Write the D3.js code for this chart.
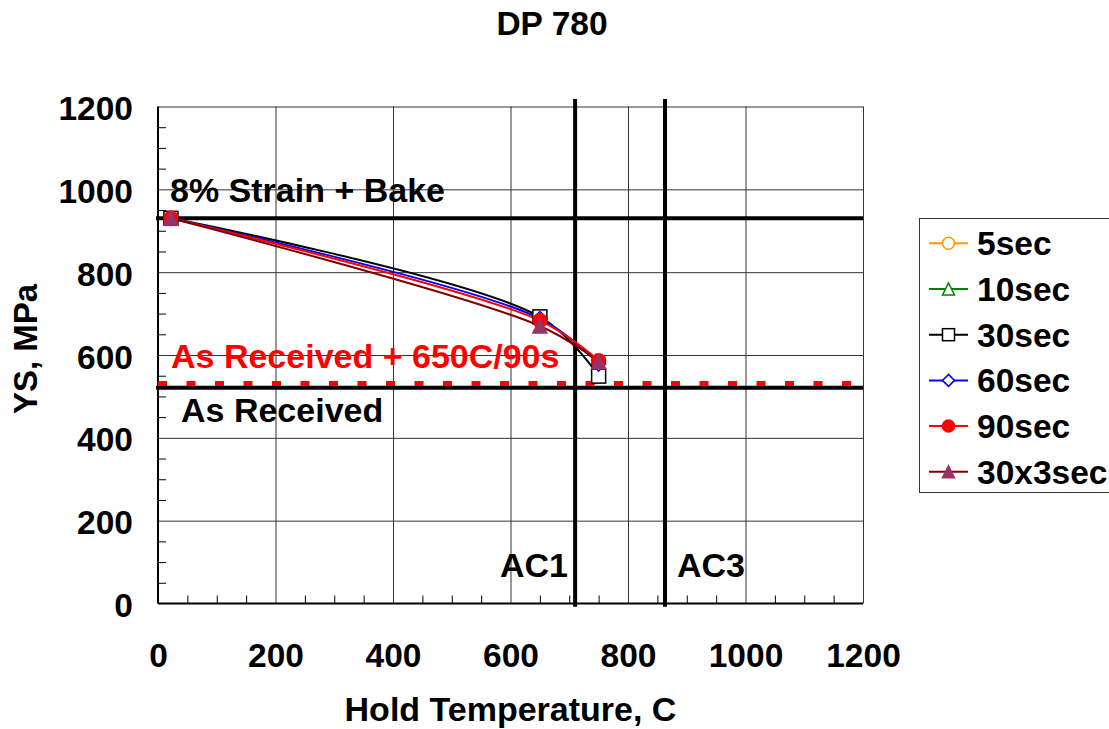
<!DOCTYPE html>
<html>
<head>
<meta charset="utf-8">
<script src="https://cdn.jsdelivr.net/npm/d3@7"></script>
<style>
  html, body { margin: 0; padding: 0; background: #fff; }
  svg { display: block; }
  text { font-family: "Liberation Sans", Arial, sans-serif; font-weight: bold; }
</style>
</head>
<body>
<svg id="chart" width="1109" height="729"></svg>
<script>
// ---------- data ----------
const chartTitle = "DP 780";
const xTicks = [0, 200, 400, 600, 800, 1000, 1200];
const yTicks = [0, 200, 400, 600, 800, 1000, 1200];
const temps = [22, 650, 750];
const seriesNames = ["5sec", "10sec", "30sec", "60sec", "90sec", "30x3sec"];
const ys5sec = [];
const ys10sec = [];
const ys30sec = [930, 692, 549];
const ys60sec = [930, 688, 578];
const ys90sec = [930, 683, 586];
const ys30x3sec = [930, 670, 584];
const strainBakeYS = 930;
const asReceivedYS = 521;
const asReceived650YS = 531;
const ac1Temp = 710;
const ac3Temp = 863;

// ---------- styles ----------
const styles = {
  "5sec":    {line: "#FF9900", fill: "#fff",    stroke: "#FF9900", shape: "circle"},
  "10sec":   {line: "#008000", fill: "#fff",    stroke: "#008000", shape: "triangle"},
  "30sec":   {line: "#000000", fill: "#fff",    stroke: "#000000", shape: "square"},
  "60sec":   {line: "#0000FF", fill: "#fff",    stroke: "#0000FF", shape: "diamond"},
  "90sec":   {line: "#FF0000", fill: "#FF0000", stroke: "#FF0000", shape: "circle"},
  "30x3sec": {line: "#800000", fill: "#993366", stroke: "#993366", shape: "triangle"}
};
const seriesValues = [ys5sec, ys10sec, ys30sec, ys60sec, ys90sec, ys30x3sec];
const series = seriesNames.map((n, i) => ({
  name: n,
  pts: seriesValues[i].map((v, j) => ({x: temps[j], y: v}))
}));

const svg = d3.select("#chart");
const x = d3.scaleLinear().domain([0, 1200]).range([158, 863]);
const y = d3.scaleLinear().domain([0, 1200]).range([603.5, 106.5]);

// gridlines
svg.append("g").attr("transform", `translate(0,${y(0)})`)
  .call(d3.axisBottom(x).tickValues(xTicks.slice(1)).tickSize(-(y(0) - y(1200))).tickFormat(""))
  .call(g => g.select(".domain").remove())
  .call(g => g.selectAll("line").attr("stroke", "#333").attr("stroke-width", 1));
svg.append("g").attr("transform", `translate(${x(0)},0)`)
  .call(d3.axisLeft(y).tickValues(yTicks.slice(1)).tickSize(-(x(1200) - x(0))).tickFormat(""))
  .call(g => g.select(".domain").remove())
  .call(g => g.selectAll("line").attr("stroke", "#333").attr("stroke-width", 1));

// minor ticks (inside)
const minorX = d3.range(50, 1200, 50).filter(v => v % 200 !== 0);
const minorY = d3.range(50, 1200, 50).filter(v => v % 200 !== 0);
svg.append("g").attr("transform", `translate(0,${y(0)})`)
  .call(d3.axisBottom(x).tickValues(minorX).tickSize(-8).tickFormat(""))
  .call(g => g.select(".domain").remove())
  .call(g => g.selectAll("line").attr("stroke", "#000"));
svg.append("g").attr("transform", `translate(${x(0)},0)`)
  .call(d3.axisLeft(y).tickValues(minorY).tickSize(-8).tickFormat(""))
  .call(g => g.select(".domain").remove())
  .call(g => g.selectAll("line").attr("stroke", "#000"));

// axis lines
svg.append("line").attr("x1", x(0)).attr("x2", x(1200)).attr("y1", y(0)).attr("y2", y(0))
  .attr("stroke", "#000").attr("stroke-width", 2);
svg.append("line").attr("x1", x(0)).attr("x2", x(0)).attr("y1", y(0)).attr("y2", y(1200))
  .attr("stroke", "#000").attr("stroke-width", 2);

// tick labels
svg.append("g").attr("transform", `translate(0,${y(0)})`)
  .call(d3.axisBottom(x).tickValues(xTicks).tickSize(0).tickPadding(0).tickFormat(d3.format("d")))
  .call(g => g.select(".domain").remove())
  .call(g => g.selectAll("text").attr("font-size", 33.5).attr("fill", "#000")
    .attr("y", 63).attr("dy", 0).style("font-family", "Liberation Sans, Arial, sans-serif").style("font-weight", "bold"));
svg.append("g").attr("transform", `translate(${x(0)},0)`)
  .call(d3.axisLeft(y).tickValues(yTicks).tickSize(0).tickPadding(0).tickFormat(d3.format("d")))
  .call(g => g.select(".domain").remove())
  .call(g => g.selectAll("text").attr("font-size", 33.5).attr("fill", "#000")
    .attr("x", -25).attr("dy", 13).style("font-family", "Liberation Sans, Arial, sans-serif").style("font-weight", "bold"));

// reference lines
svg.append("line").attr("x1", x(0) - 2).attr("x2", x(1200)).attr("y1", y(strainBakeYS)).attr("y2", y(strainBakeYS))
  .attr("stroke", "#000").attr("stroke-width", 4);
svg.append("line").attr("x1", x(0) - 2).attr("x2", x(1200)).attr("y1", y(asReceivedYS)).attr("y2", y(asReceivedYS))
  .attr("stroke", "#000").attr("stroke-width", 4);
svg.append("line").attr("x1", x(0)).attr("x2", x(1200) + 4).attr("y1", y(asReceived650YS)).attr("y2", y(asReceived650YS))
  .attr("stroke", "#FF0000").attr("stroke-width", 5).attr("stroke-dasharray", "9 19.5");
[ac1Temp, ac3Temp].forEach(t => {
  svg.append("line").attr("x1", x(t)).attr("x2", x(t)).attr("y1", y(1218)).attr("y2", y(-8))
    .attr("stroke", "#000").attr("stroke-width", 4);
});

// annotations
const ann = (txt, xx, yy, col) => svg.append("text").attr("x", xx).attr("y", yy)
  .attr("font-size", 34).attr("fill", col).text(txt);
ann("8% Strain + Bake", 170, 201.5, "#000");
ann("As Received + 650C/90s", 171, 368, "#FF0000");
ann("As Received", 181, 422, "#000");
ann("AC1", 500, 577, "#000");
ann("AC3", 677, 577, "#000");

// title and axis titles
svg.append("text").attr("x", 552).attr("y", 35).attr("text-anchor", "middle").attr("font-size", 33.5).text(chartTitle);
svg.append("text").attr("x", (x(0) + x(1200)) / 2).attr("y", 721).attr("text-anchor", "middle")
  .attr("font-size", 34).text("Hold Temperature, C");
svg.append("text").attr("transform", "translate(37,349) rotate(-90)").attr("text-anchor", "middle")
  .attr("font-size", 33).text("YS, MPa");

// markers
function marker(g, shape, cx, cy, st, s) {
  if (shape === "circle") {
    g.append("circle").attr("cx", cx).attr("cy", cy).attr("r", s / 2)
      .attr("fill", st.fill).attr("stroke", st.stroke).attr("stroke-width", 1.5);
  } else if (shape === "square") {
    g.append("rect").attr("x", cx - s / 2).attr("y", cy - s / 2).attr("width", s).attr("height", s)
      .attr("fill", st.fill).attr("stroke", st.stroke).attr("stroke-width", 1.5);
  } else if (shape === "triangle") {
    const h = s;
    g.append("path").attr("d", `M${cx},${cy - h / 2}L${cx + s / 2},${cy + h / 2}L${cx - s / 2},${cy + h / 2}Z`)
      .attr("fill", st.fill).attr("stroke", st.stroke).attr("stroke-width", 1.5);
  } else if (shape === "diamond") {
    g.append("path").attr("d", `M${cx},${cy - s / 2}L${cx + s / 2},${cy}L${cx},${cy + s / 2}L${cx - s / 2},${cy}Z`)
      .attr("fill", st.fill).attr("stroke", st.stroke).attr("stroke-width", 1.5);
  }
}

// series lines
const lineGen = d3.line().x(d => x(d.x)).y(d => y(d.y)).curve(d3.curveCatmullRom.alpha(0.5));
const gs = svg.append("g");
series.forEach(s => {
  if (s.pts.length === 0) return;
  gs.append("path").datum(s.pts).attr("d", lineGen).attr("fill", "none")
    .attr("stroke", styles[s.name].line).attr("stroke-width", 2);
});
series.forEach(s => {
  s.pts.forEach(p => marker(gs, styles[s.name].shape, x(p.x), y(p.y), styles[s.name], 14));
});

// legend
const lg = svg.append("g");
lg.append("rect").attr("x", 919.5).attr("y", 218.5).attr("width", 200).attr("height", 274)
  .attr("fill", "#fff").attr("stroke", "#333").attr("stroke-width", 1);
seriesNames.forEach((n, i) => {
  const cy = 243.3 + i * 45.7;
  const st = styles[n];
  lg.append("line").attr("x1", 929).attr("x2", 968).attr("y1", cy).attr("y2", cy)
    .attr("stroke", st.line).attr("stroke-width", 2);
  marker(lg, st.shape, 948.5, cy, st, 12);
  lg.append("text").attr("x", 977).attr("y", cy + 12).attr("font-size", 33.5).attr("fill", "#000").text(n);
});
</script>
</body>
</html>
